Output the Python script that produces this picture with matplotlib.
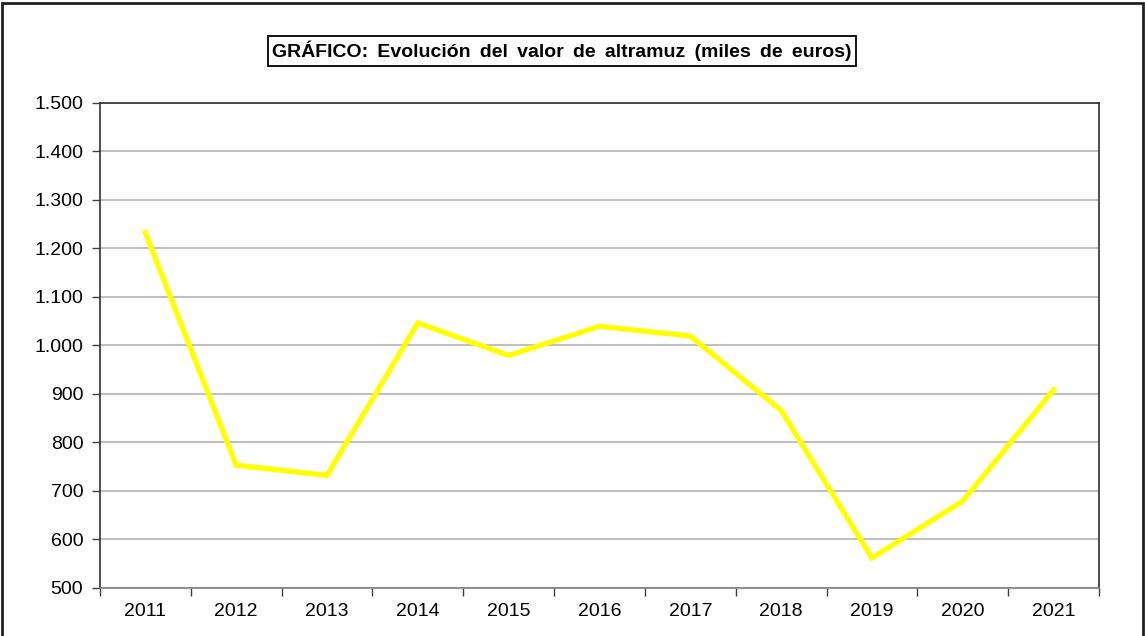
import matplotlib
matplotlib.use("Agg")
import matplotlib.pyplot as plt
import numpy as np
from matplotlib.patches import Rectangle
from matplotlib.ticker import FuncFormatter, FixedLocator, NullFormatter

# Valor del altramuz por campaña (miles de euros)
years = ["2011", "2012", "2013", "2014", "2015", "2016",
         "2017", "2018", "2019", "2020", "2021"]
values = [1232, 753, 732, 1046, 979, 1039, 1019, 866, 562, 679, 908]

title = "GRÁFICO: Evolución del valor de altramuz (miles de euros)"

plt.rcParams["font.family"] = ["Liberation Sans", "DejaVu Sans"]

W, H = 1145, 636
fig = plt.figure(figsize=(W / 100, H / 100), dpi=100)
ax = fig.add_axes([100 / W, (H - 588) / H, 999 / W, 485.5 / H])

x = np.arange(len(years))
ax.plot(x, values, color="#FFFF00", lw=3.8, solid_joinstyle="miter", zorder=3)

ax.set_xlim(-0.5, len(years) - 0.5)
ax.set_ylim(500, 1500)
ax.set_yticks(np.arange(500, 1501, 100))
ax.yaxis.set_major_formatter(FuncFormatter(lambda v, p: f"{int(v):,}".replace(",", ".")))
ax.yaxis.grid(True, color="#c0c0c0", lw=1.5, zorder=1)

# category labels in the middle, tick marks on the boundaries
ax.set_xticks(x)
ax.set_xticklabels(years)
ax.tick_params(axis="x", which="major", length=0, pad=11)
ax.xaxis.set_minor_locator(FixedLocator(np.arange(-0.5, len(years), 1)))
ax.xaxis.set_minor_formatter(NullFormatter())
ax.tick_params(axis="x", which="minor", length=6, width=1, color="#404040")
ax.tick_params(axis="y", length=6, width=1, color="#404040", pad=6)
ax.tick_params(labelsize=14, labelcolor="black")

for s in ax.spines.values():
    s.set_color("#303030")
    s.set_linewidth(1.2)
ax.spines["bottom"].set_color("#808080")

# boxed title, words a little more spread out
fig.text(562 / W, 1 - 51 / H, title.replace(" ", " \u2009"), ha="center", va="center",
         fontsize=14, fontweight="bold",
         bbox=dict(boxstyle="square,pad=0.22", fc="white", ec="black", lw=1.3))

# outer frame of the chart
fig.patches.append(Rectangle((1.5 / W, -0.05), 1141 / W, 1 - 3 / H + 0.05,
                             transform=fig.transFigure, fill=False,
                             ec="#202020", lw=2, zorder=10))

fig.savefig("out.png", dpi=100)
